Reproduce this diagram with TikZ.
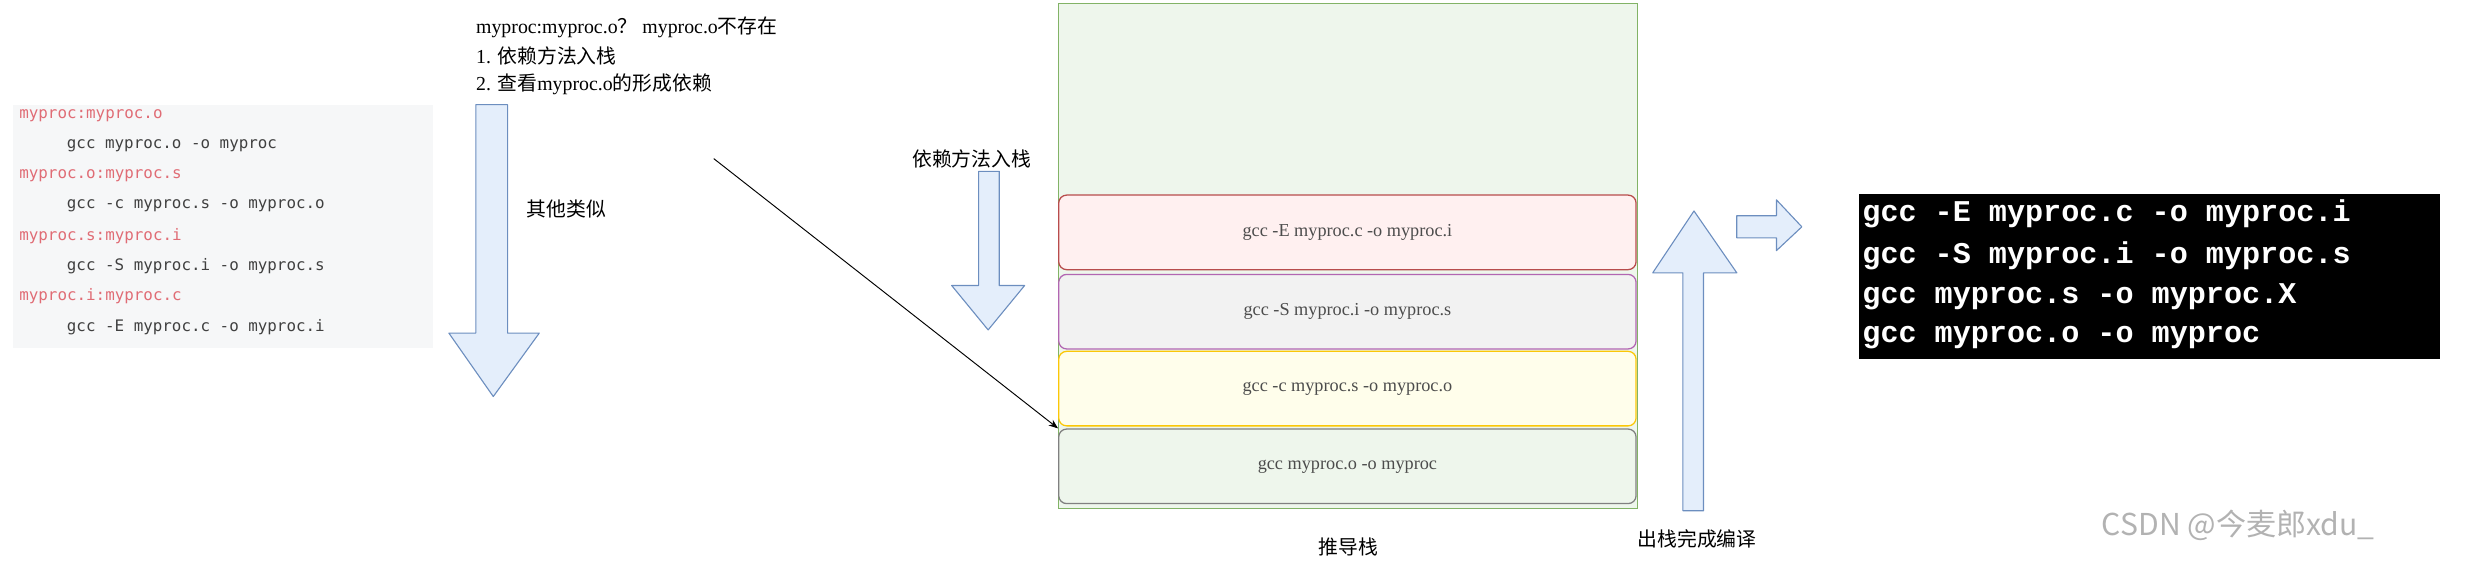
\documentclass[tikz,border=0pt]{standalone}
\usepackage{fontspec}
\usetikzlibrary{arrows.meta}
\setmainfont{Liberation Serif}
\setmonofont{DejaVu Sans Mono}
\newfontfamily\cjk{Noto Sans CJK SC}
\newfontfamily\termfont{Liberation Mono}
\newcommand{\zh}[1]{{\cjk #1}}
\definecolor{codebg}{HTML}{F6F7F8}
\definecolor{codered}{HTML}{E06C75}
\definecolor{blueline}{HTML}{6C8EBF}
\definecolor{bluefill}{HTML}{E4EEFB}
\definecolor{gline}{HTML}{82B366}
\definecolor{gfill}{HTML}{EEF6EC}
\begin{document}
\begin{tikzpicture}[x=1pt,y=-1pt,
  code/.style={anchor=west,font=\ttfamily\fontsize{10}{11}\selectfont,text=black!75,inner sep=0pt},
  codekey/.style={code,text=codered},
  lbl/.style={anchor=west,font=\fontsize{12.5}{13}\selectfont,inner sep=0pt},
  hollow/.style={draw=blueline,fill=bluefill,line width=0.7pt,line join=round},
  layer/.style={draw=#1,rounded corners=5pt,line width=0.8pt,minimum width=364pt,minimum height=47pt,font=\fontsize{11.5}{12}\selectfont,text=black!70},
  term/.style={anchor=west,font=\termfont\bfseries\fontsize{19}{20}\selectfont,text=white,inner sep=0pt}]
\useasboundingbox (0,0) rectangle (1568,359.4);
% code box
\node[fill=codebg,minimum width=265pt,minimum height=153pt,anchor=north west,inner sep=0pt] (codebox) at (8,66) {};
\node[codekey] (c1) at (12,73) {myproc:myproc.o};
\node[code] (c2) at (42,92) {gcc myproc.o -o myproc};
\node[codekey] (c3) at (12,111) {myproc.o:myproc.s};
\node[code] (c4) at (42,130) {gcc -c myproc.s -o myproc.o};
\node[codekey] (c5) at (12,149) {myproc.s:myproc.i};
\node[code] (c6) at (42,168) {gcc -S myproc.i -o myproc.s};
\node[codekey] (c7) at (12,187) {myproc.i:myproc.c};
\node[code] (c8) at (42,206) {gcc -E myproc.c -o myproc.i};
% big down arrow
\draw[hollow] (300,66) -- (320,66) -- (320,210) -- (340,210) -- (311,250) -- (283,210) -- (300,210) -- cycle;
\node[lbl] (other) at (332,132) {\zh{其他类似}};
% top text
\node[lbl] (t1) at (300,17) {myproc:myproc.o\zh{？} myproc.o\zh{不存在}};
\node[lbl] (t2) at (300,35) {1. \zh{依赖方法入栈}};
\node[lbl] (t3) at (300,53) {2. \zh{查看}myproc.o\zh{的形成依赖}};
\coordinate (ls) at (450,100);
% small down arrow
\node[lbl] (push) at (575,100) {\zh{依赖方法入栈}};
\draw[hollow] (617,108) -- (630,108) -- (630,180) -- (646,180) -- (623,208) -- (600,180) -- (617,180) -- cycle;
% stack
\node[draw=gline,fill=gfill,line width=0.8pt,minimum width=365pt,minimum height=318pt,anchor=north west,inner sep=0pt] (stack) at (667,2) {};
\node[layer=red!60!black!70,fill=red!6] (l1) at (849.5,146.5) {gcc -E myproc.c -o myproc.i};
\node[layer=violet!60,fill=black!5] (l2) at (849.5,196.5) {gcc -S myproc.i -o myproc.s};
\node[layer=yellow!60!orange,fill=yellow!8] (l3) at (849.5,245) {gcc -c myproc.s -o myproc.o};
\node[layer=black!50,fill=gfill] (l4) at (849.5,294) {gcc myproc.o -o myproc};
\draw[-{Stealth[length=6pt]},line width=0.6pt] (ls) -- (l4.north west);
\node[font=\fontsize{12.5}{13}\selectfont] (stk) at (850,345) {\zh{推导栈}};
% up arrow
\draw[hollow] (1061,322) -- (1074,322) -- (1074,172) -- (1095,172) -- (1068,133) -- (1042,172) -- (1061,172) -- cycle;
\node[font=\fontsize{12.5}{13}\selectfont] (out) at (1070,340) {\zh{出栈完成编译}};
% right arrow
\draw[hollow] (1095,136) -- (1120,136) -- (1120,126) -- (1136,143) -- (1120,158) -- (1120,150) -- (1095,150) -- cycle;
% terminal
\node[fill=black,minimum width=366pt,minimum height=104pt,anchor=north west,inner sep=0pt] (termbox) at (1172,122) {};
\node[term] (g1) at (1174,135) {gcc -E myproc.c -o myproc.i};
\node[term] (g2) at (1174,161) {gcc -S myproc.i -o myproc.s};
\node[term] (g3) at (1174,187) {gcc myproc.s -o myproc.X};
\node[term] (g4) at (1174,213) {gcc myproc.o -o myproc};
% watermark
\node[anchor=west,font=\fontsize{19}{20}\selectfont,text=black!30,inner sep=0pt] (wm) at (1325,331) {\zh{CSDN @今麦郎xdu\_}};
\end{tikzpicture}
\end{document}
